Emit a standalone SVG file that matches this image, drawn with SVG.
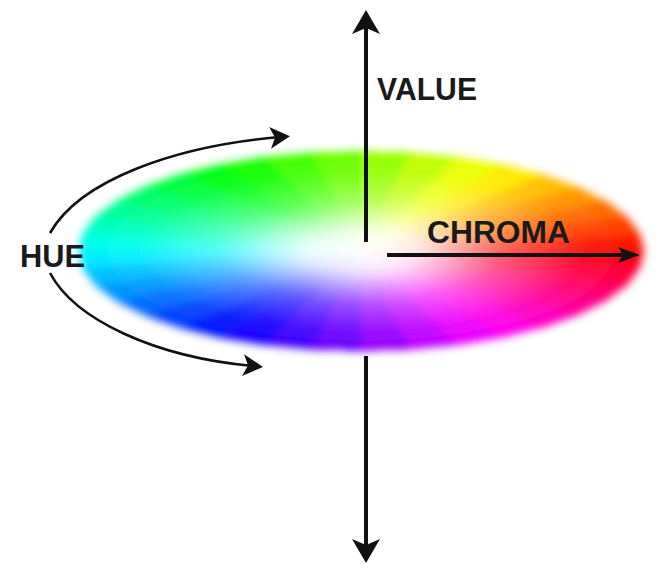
<svg xmlns="http://www.w3.org/2000/svg" width="662" height="570" viewBox="0 0 662 570">
<style>
.lbl{font-family:"Liberation Sans",Arial,sans-serif;font-weight:bold;font-size:32px;fill:#1a1a1a}
.axis{stroke:#111;stroke-width:4;fill:none}
.arc{stroke:#111;stroke-width:2.6;fill:none}
.wedges path{shape-rendering:crispEdges}
</style>
<defs>
<filter id="soft" x="-10%" y="-20%" width="120%" height="140%"><feGaussianBlur stdDeviation="4.5"/></filter>
<radialGradient id="white" gradientUnits="userSpaceOnUse" cx="0" cy="0" r="100">
<stop offset="0" stop-color="#fff" stop-opacity="1"/>
<stop offset="0.2" stop-color="#fff" stop-opacity="0.9"/>
<stop offset="0.5" stop-color="#fff" stop-opacity="0.35"/>
<stop offset="0.8" stop-color="#fff" stop-opacity="0.05"/>
<stop offset="1" stop-color="#fff" stop-opacity="0"/>
</radialGradient>
<marker id="axHead" markerUnits="userSpaceOnUse" viewBox="0 -15 26 30" markerWidth="26" markerHeight="30" refX="14" refY="0" orient="auto">
<path d="M24 0L0 -14L6 0L0 14Z" fill="#111"/>
</marker>
<marker id="chHead" markerUnits="userSpaceOnUse" viewBox="0 -10 24 20" markerWidth="24" markerHeight="20" refX="12" refY="0" orient="auto">
<path d="M22 0L0 -8L5 0L0 8Z" fill="#111"/>
</marker>
<marker id="arcHead" markerUnits="userSpaceOnUse" viewBox="0 -12 22 24" markerWidth="22" markerHeight="24" refX="10" refY="0" orient="auto">
<path d="M20 0L0 -11L5 0L0 11Z" fill="#111"/>
</marker>
</defs>
<rect width="662" height="570" fill="#fff"/>
<g id="color-ellipse" filter="url(#soft)">
<g class="wedges" transform="translate(361,251) scale(2.83,1)">
<path d="M0 0L100 0L98.5 -17.4Z" fill="hsl(5,100%,50%)"/>
<path d="M0 0L98.5 -17.4L94 -34.2Z" fill="hsl(15,100%,50%)"/>
<path d="M0 0L94 -34.2L86.6 -50Z" fill="hsl(25,100%,50%)"/>
<path d="M0 0L86.6 -50L76.6 -64.3Z" fill="hsl(35,100%,50%)"/>
<path d="M0 0L76.6 -64.3L64.3 -76.6Z" fill="hsl(45,100%,50%)"/>
<path d="M0 0L64.3 -76.6L50 -86.6Z" fill="hsl(55,100%,50%)"/>
<path d="M0 0L50 -86.6L34.2 -94Z" fill="hsl(65,100%,50%)"/>
<path d="M0 0L34.2 -94L17.4 -98.5Z" fill="hsl(75,100%,50%)"/>
<path d="M0 0L17.4 -98.5L0 -100Z" fill="hsl(85,100%,50%)"/>
<path d="M0 0L0 -100L-17.4 -98.5Z" fill="hsl(95,100%,50%)"/>
<path d="M0 0L-17.4 -98.5L-34.2 -94Z" fill="hsl(105,100%,50%)"/>
<path d="M0 0L-34.2 -94L-50 -86.6Z" fill="hsl(115,100%,50%)"/>
<path d="M0 0L-50 -86.6L-64.3 -76.6Z" fill="hsl(125,100%,50%)"/>
<path d="M0 0L-64.3 -76.6L-76.6 -64.3Z" fill="hsl(135,100%,50%)"/>
<path d="M0 0L-76.6 -64.3L-86.6 -50Z" fill="hsl(145,100%,50%)"/>
<path d="M0 0L-86.6 -50L-94 -34.2Z" fill="hsl(155,100%,50%)"/>
<path d="M0 0L-94 -34.2L-98.5 -17.4Z" fill="hsl(165,100%,50%)"/>
<path d="M0 0L-98.5 -17.4L-100 0Z" fill="hsl(175,100%,50%)"/>
<path d="M0 0L-100 0L-98.5 17.4Z" fill="hsl(185,100%,50%)"/>
<path d="M0 0L-98.5 17.4L-94 34.2Z" fill="hsl(195,100%,50%)"/>
<path d="M0 0L-94 34.2L-86.6 50Z" fill="hsl(205,100%,50%)"/>
<path d="M0 0L-86.6 50L-76.6 64.3Z" fill="hsl(215,100%,50%)"/>
<path d="M0 0L-76.6 64.3L-64.3 76.6Z" fill="hsl(225,100%,50%)"/>
<path d="M0 0L-64.3 76.6L-50 86.6Z" fill="hsl(235,100%,50%)"/>
<path d="M0 0L-50 86.6L-34.2 94Z" fill="hsl(245,100%,50%)"/>
<path d="M0 0L-34.2 94L-17.4 98.5Z" fill="hsl(255,100%,50%)"/>
<path d="M0 0L-17.4 98.5L0 100Z" fill="hsl(265,100%,50%)"/>
<path d="M0 0L0 100L17.4 98.5Z" fill="hsl(275,100%,50%)"/>
<path d="M0 0L17.4 98.5L34.2 94Z" fill="hsl(285,100%,50%)"/>
<path d="M0 0L34.2 94L50 86.6Z" fill="hsl(295,100%,50%)"/>
<path d="M0 0L50 86.6L64.3 76.6Z" fill="hsl(305,100%,50%)"/>
<path d="M0 0L64.3 76.6L76.6 64.3Z" fill="hsl(315,100%,50%)"/>
<path d="M0 0L76.6 64.3L86.6 50Z" fill="hsl(325,100%,50%)"/>
<path d="M0 0L86.6 50L94 34.2Z" fill="hsl(335,100%,50%)"/>
<path d="M0 0L94 34.2L98.5 17.4Z" fill="hsl(345,100%,50%)"/>
<path d="M0 0L98.5 17.4L100 0Z" fill="hsl(355,100%,50%)"/>
<circle cx="0" cy="0" r="100" fill="url(#white)"/>
</g>
</g>
<g id="connectors">
<path class="axis" d="M366 242V20" marker-end="url(#axHead)"/>
<path class="axis" d="M366 356V553" marker-end="url(#axHead)"/>
<path class="axis" d="M387 255H630" marker-end="url(#chHead)"/>
<path class="arc" d="M50 233C80 180 175 146 280 137" marker-end="url(#arcHead)"/>
<path class="arc" d="M50 273C75 320 155 357 253 366" marker-end="url(#arcHead)"/>
</g>
<g id="value-label"><text class="lbl" x="377" y="100" textLength="100" lengthAdjust="spacingAndGlyphs">VALUE</text></g>
<g id="chroma-label"><text class="lbl" x="427" y="243" textLength="143" lengthAdjust="spacingAndGlyphs">CHROMA</text></g>
<g id="hue-label"><text class="lbl" x="20" y="267" textLength="65" lengthAdjust="spacingAndGlyphs">HUE</text></g>
</svg>
